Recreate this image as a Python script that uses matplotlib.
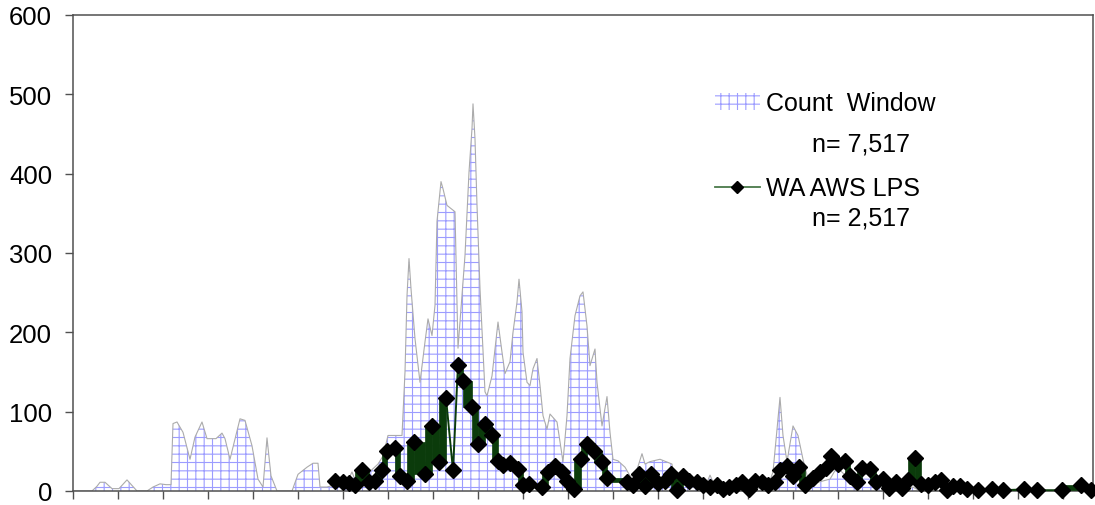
import numpy as np
import matplotlib
matplotlib.use("Agg")
import matplotlib.pyplot as plt
from matplotlib.patches import Patch
from matplotlib.lines import Line2D

plt.rcParams['font.family'] = ['Liberation Sans', 'DejaVu Sans']
plt.rcParams['hatch.linewidth'] = 0.8

# Count Window (area)
cw_x = [0, 19, 24, 27, 32, 39, 46, 54, 64, 74, 80, 87, 93, 98, 100, 104, 110, 117,
        122, 129, 134, 143, 149, 152, 157, 167, 172, 179, 185, 190, 194, 198, 204,
        219, 225, 234, 240, 245, 247, 254, 262, 272, 279, 284, 294, 305, 310, 315,
        329, 332, 334, 336, 338, 342, 347, 352, 355, 359, 362, 364, 368, 370, 374,
        382, 385, 392, 396, 399, 400, 402, 404, 407, 412, 414, 419, 422, 425, 429,
        432, 437, 440, 444, 446, 449, 450, 454, 457, 460, 464, 467, 470, 474, 477,
        484, 490, 494, 497, 502, 507, 510, 514, 517, 522, 524, 529, 534, 537, 540,
        545, 552, 557, 562, 569, 572, 577, 587, 599, 601, 617, 632, 637, 643, 694,
        700, 707, 710, 714, 720, 725, 730, 735, 742, 757, 764, 772, 794, 807, 814,
        832, 840, 847, 1020]
cw_y = [0, 0, 6, 11, 11, 3, 3, 14, 0, 0, 5, 9, 8, 8, 85, 87, 74, 40,
        68, 87, 66, 66, 73, 66, 40, 91, 89, 57, 15, 5, 67, 19, 0,
        0, 21, 30, 35, 35, 5, 5, 8, 6, 24, 8, 21, 34, 44, 70,
        70, 150, 246, 293, 255, 192, 137, 188, 217, 196, 234, 340, 390, 381, 360,
        352, 180, 297, 402, 457, 488, 444, 360, 255, 125, 120, 145, 179, 213, 175,
        148, 163, 200, 238, 267, 226, 175, 137, 133, 154, 167, 133, 95, 78, 97,
        87, 37, 95, 167, 221, 246, 251, 208, 158, 179, 137, 82, 119, 74, 40,
        38, 30, 19, 19, 47, 34, 37, 40, 34, 11, 5, 5, 20, 3, 3,
        24, 118, 70, 37, 82, 70, 40, 15, 10, 15, 30, 20, 21, 5, 0,
        0, 5, 0, 0]

# WA AWS LPS (line)
lps_x = [262, 270, 276, 282, 289, 296, 302, 309, 314, 322, 327, 334, 341, 352, 359,
         366, 373, 380, 385, 390, 399, 405, 412, 419, 425, 430, 437, 445, 450, 456,
         469, 475, 482, 489, 494, 501, 508, 514, 521, 529, 534, 554, 560, 566, 572,
         578, 585, 592, 598, 604, 610, 616, 624, 630, 637, 644, 650, 656, 663, 669,
         676, 682, 689, 695, 702, 707, 714, 720, 726, 732, 740, 747, 753, 758, 765,
         772, 777, 784, 789, 797, 803, 810, 816, 823, 829, 835, 842, 848, 855, 862,
         868, 874, 880, 887, 894, 905, 919, 930, 951, 964, 989, 1008, 1018]
lps_y = [12, 11, 10, 8, 26, 11, 13, 26, 51, 54, 19, 13, 62, 21, 82,
         36, 117, 26, 159, 139, 106, 59, 84, 70, 38, 33, 35, 28, 7, 9,
         5, 24, 32, 24, 13, 2, 40, 59, 51, 36, 17, 11, 8, 21, 6,
         21, 10, 13, 21, 1, 19, 13, 11, 7, 5, 7, 3, 5, 7, 11,
         3, 13, 11, 8, 11, 26, 32, 19, 30, 7, 17, 24, 29, 44, 34,
         38, 19, 11, 29, 28, 11, 15, 4, 11, 4, 14, 41, 9, 8, 11,
         14, 1, 6, 6, 3, 1, 2, 1, 2, 1, 1, 7, 1]
thin_segments = [16, 17]

hatch_col = '#9c9cff'
green = '#0b3b0b'

fig = plt.figure(figsize=(10.95, 5.06), dpi=100)
ax = fig.add_axes([73 / 1095, 14 / 506, 1020 / 1095, 476 / 506])

ax.fill_between(cw_x, 0, cw_y, facecolor='white', edgecolor=hatch_col,
                hatch='++', linewidth=0, zorder=1)
ax.plot(cw_x, cw_y, color='#ababab', lw=0.8, zorder=2)

for i in range(len(lps_x) - 1):
    if i in thin_segments:
        continue
    ax.fill_between(lps_x[i:i + 2], lps_y[i], lps_y[i + 1], color=green,
                    linewidth=0.5, edgecolor=green, zorder=3)
ax.plot(lps_x, lps_y, color=green, lw=1.4, marker='D', ms=8,
        mfc='black', mec='black', zorder=4, clip_on=False)

ax.set_xlim(0, 1020)
ax.set_ylim(0, 600)
ax.set_yticks(np.arange(0, 601, 100))
ax.set_xticks(np.arange(0, 1000, 45))
ax.set_xticklabels([])
for s in ax.spines.values():
    s.set_color('#505050')
    s.set_linewidth(1.1)
ax.tick_params(axis='both', direction='out', length=6, width=1.0,
               color='#505050', labelsize=18.5, pad=9)

handles = [Patch(facecolor='white', edgecolor=hatch_col, hatch='++', lw=0),
           Line2D([], [], color='#4a7a4a', lw=1.3, marker='D', ms=6,
                  mfc='black', mec='black')]
ax.legend(handles, ['Count  Window', 'WA AWS LPS'], loc='upper left',
          bbox_to_anchor=(0.629, 0.84), frameon=False, fontsize=18,
          handlelength=1.8, handletextpad=0.25, labelspacing=2.45,
          borderpad=0, borderaxespad=0)
ax.text(0.725, 0.729, 'n= 7,517', transform=ax.transAxes, fontsize=18,
        va='center', ha='left')
ax.text(0.725, 0.574, 'n= 2,517', transform=ax.transAxes, fontsize=18,
        va='center', ha='left')

fig.savefig('out.png', dpi=100)
